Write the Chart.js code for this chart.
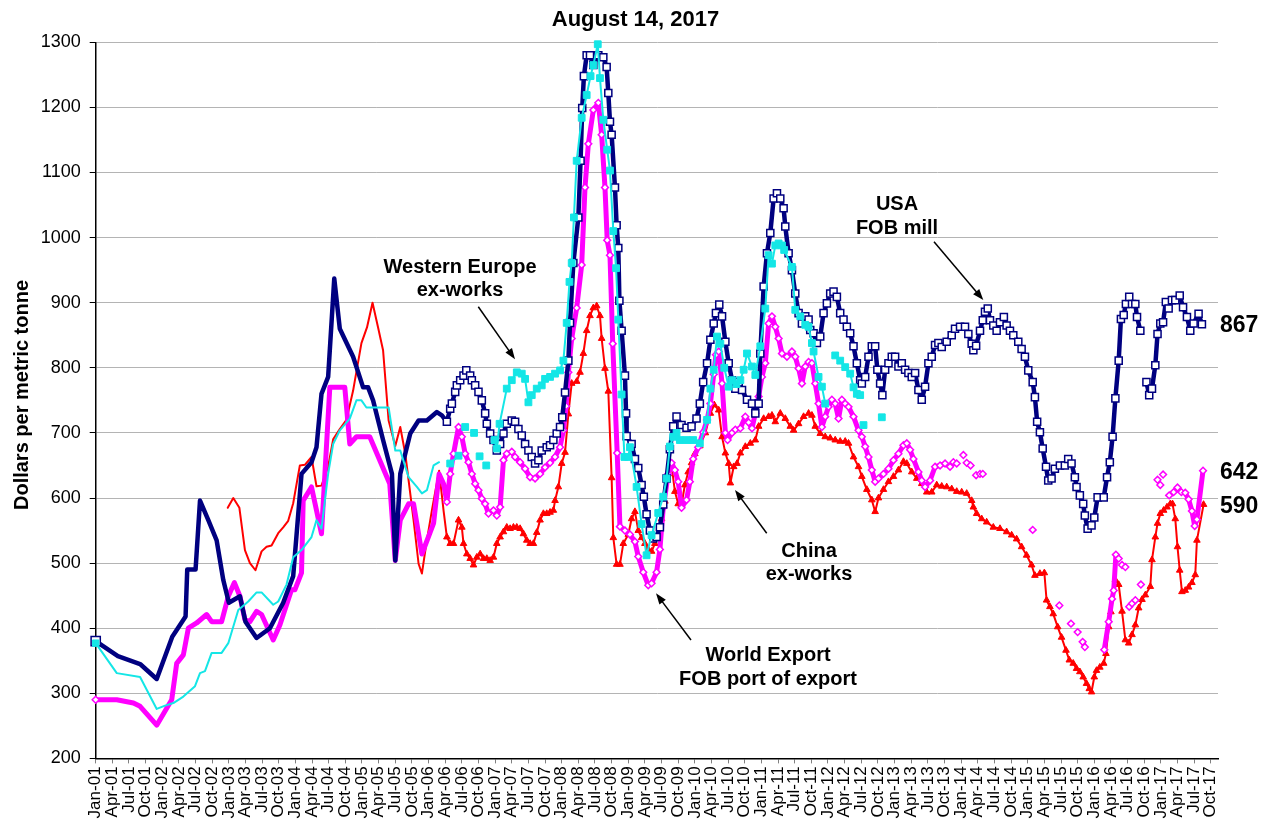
<!DOCTYPE html>
<html><head><meta charset="utf-8">
<script src="https://cdn.jsdelivr.net/npm/chart.js@4.4.1/dist/chart.umd.min.js"></script>
<style>html,body{margin:0;padding:0;background:#fff;}canvas{display:block;}</style>
</head><body>
<canvas id="c" width="1271" height="825"></canvas>
<script>
// x values are months since Jan-2001 (0 = Jan-01)
const tickLabels = ['Jan-01','Apr-01','Jul-01','Oct-01','Jan-02','Apr-02','Jul-02','Oct-02','Jan-03','Apr-03','Jul-03','Oct-03',
'Jan-04','Apr-04','Jul-04','Oct-04','Jan-05','Apr-05','Jul-05','Oct-05','Jan-06','Apr-06','Jul-06','Oct-06',
'Jan-07','Apr-07','Jul-07','Oct-07','Jan-08','Apr-08','Jul-08','Oct-08','Jan-09','Apr-09','Jul-09','Oct-09',
'Jan-10','Apr-10','Jul-10','Oct-10','Jan-11','Apr-11','Jul-11','Oct-11','Jan-12','Apr-12','Jul-12','Oct-12',
'Jan-13','Apr-13','Jul-13','Oct-13','Jan-14','Apr-14','Jul-14','Oct-14','Jan-15','Apr-15','Jul-15','Oct-15',
'Jan-16','Apr-16','Jul-16','Oct-16','Jan-17','Apr-17','Jul-17','Oct-17'];

const usaFobMill = [[0,380],[4,357],[8,345],[11,322],[13.8,387],[16.2,418],[16.5,490],[18,490],[18.8,596],[20.3,566],[21.8,535],[23,474],[24,439],[26,449],[27,410],[29,385],[31.4,400],[33.8,439],[35.6,480],[37.1,637],[38.9,655],[39.8,678],[40.7,760],[41.9,786],[43,937],[44,860],[46.4,817],[48.2,770],[49.1,770],[50,750],[51.8,689],[53.4,637],[54,504],[54.9,637],[56.7,699],[58.2,719],[59.7,719],[61.5,732],[62.4,727],
[63.3,717],[63.9,737],[64.2,745],[64.8,763],[65.1,773],[65.7,781],[66.3,788],[66.8,796],[67.5,788],[67.8,781],[68.4,773],[69,763],[69.6,750],[70.2,730],[70.5,714],[71.1,699],[71.7,689],[72.3,673],[72.9,683],[73.5,699],[74.1,714],[75,719],[75.6,717],[76.2,706],[76.8,696],[77.4,683],[78,673],[78.6,663],[79.2,653],[79.8,658],[80.4,673],[81.3,678],[81.9,681],[82.5,689],[83.1,699],[83.7,709],[84.1,724],[84.6,762],[85.2,811],[85.5,869],[86.1,961],[87,1031],[87.4,1118],[87.7,1199],[88,1248],[88.5,1280],[89.1,1280],[89.7,1265],[90.6,1280],[91.5,1277],[92.1,1262],[92.4,1222],[92.7,1178],[93,1158],[93.6,1077],[93.9,1019],[94.2,984],[94.4,903],[94.8,857],[95.4,788],[95.6,730],[95.7,695],[96.6,683],[97.2,660],[97.8,646],[98.4,620],[98.8,602],[99.3,575],[99.9,550],[100.5,538],[101.1,540],[101.7,555],[102.3,590],[102.9,630],[103.5,675],[104.1,710],[104.7,725],[105.6,712],[106.5,708],[107.4,710],[108.3,722],[108.9,745],[109.5,778],[110.2,807],[110.8,843],[111.4,868],[111.8,884],[112.4,897],
[112.9,879],[113.5,840],[114.1,807],[114.7,781],[115.3,768],[115.9,778],[116.5,766],[117.4,751],[118.3,745],[118.9,730],[119.5,745],[119.8,822],[120.4,925],[121,976],[121.6,1007],[122.2,1060],[122.8,1068],[123.4,1060],[124,1045],[124.3,1017],[124.9,976],[125.5,950],[126.1,914],[126.7,884],[127.3,868],[127.9,879],[128.5,874],[128.8,858],[129.4,853],[130,838],[130.6,848],[131.2,884],[131.8,899],[132.4,914],[133,917],[133.6,909],[134.2,884],[134.8,874],[135.4,863],[136,853],[136.6,833],[137.2,807],[137.8,781],[138.1,776],[138.7,786],[139.3,817],[139.9,833],[140.5,833],[140.9,797],[141.4,776],[141.8,758],[142.3,797],[142.9,807],[143.5,817],[144.1,817],[144.7,802],[145.3,807],[145.9,797],[146.5,792],[147.1,786],[147.7,792],[148.3,766],[148.9,751],[149.5,771],[150.1,807],[150.7,817],[151.3,835],[151.9,838],[152.5,832],[153.4,840],[154.3,850],[154.9,860],[155.8,863],[156.7,863],[157.3,852],[157.9,837],[158.2,827],[158.7,834],[159.4,857],[159.9,873],[160.3,886],[160.8,891],[161.2,873],[161.8,865],[162.4,857],[163,870],[163.7,878],[164.2,865],[164.8,857],[165.4,850],[166.3,840],[166.9,829],[167.5,817],[168.1,796],[168.9,778],[169.3,755],[169.7,717],[170.2,701],[170.7,676],[171.3,648],[171.7,627],[172.3,630],[172.9,645],[173.8,650],[174.7,650],[175.3,660],[175.9,653],[176.5,632],[176.8,617],[177.4,604],[178,591],[178.3,573],[178.8,553],[179.5,558],[180,570],[180.6,601],[181.7,601],[182.3,632],[182.8,655],[183.3,694],[183.8,753],[184.4,811],[184.8,875],[185.3,881],[185.7,898],[186.3,909],[186.8,898],[187.4,898],[187.7,878],[188.3,857],null,
[189.4,778],[189.9,758],[190.4,768],[191,804],[191.4,852],[191.9,868],[192.4,870],[192.9,901],[193.4,891],[194,904],[194.6,904],[195.4,911],[196,893],[196.7,878],[197.3,857],[197.9,868],[198.8,883],[199.4,867]];

const westernEuropeExWorks = [[0,377],[3.8,331],[8,325],[11,276],[12.5,281],[14,285],[15.8,295],[17.9,311],[18.8,331],[19.7,334],[20.9,362],[22.7,362],[23.9,377],[25.7,428],[27.5,441],[29,455],[29.9,455],[32,436],[32.9,441],[34.4,467],[35.6,509],[37.1,520],[38.9,540],[39.8,566],[40.7,553],[41.9,637],[42.8,683],[44,704],[45.8,722],[47,750],[47.9,750],[48.8,739],[52.8,739],[54,673],[54.9,673],[56.4,632],[57.9,617],[58.8,607],[59.7,612],[60.9,650],[61.9,655],null,
[63.9,653],[65.4,665],null,[66.6,709],null,[68.2,700],null,[69.2,664],null,[70.4,650],null,
[71.9,689],[72.3,676],[72.8,714],[74.1,768],[75,781],[75.9,793],[76.8,791],[77.4,783],[78,747],[78.6,758],[79.5,768],[80.4,773],[81,783],[81.9,786],[82.8,791],[83.7,796],[84.3,811],[84.9,869],[85.4,932],[85.8,961],[86.2,1031],[86.7,1118],[87.6,1184],[88.5,1219],[89.2,1248],[89.7,1265],[90.5,1297],[90.9,1245],[91.5,1181],[92.2,1135],[92.7,1103],[93.3,1010],[93.8,953],[94.2,874],[94.8,759],[95.3,663],[96,663],[96.3,678],[97.5,617],[98.4,560],[99.3,512],[100.2,543],[101.4,577],[102.3,602],[102.9,630],[103.5,679],[104.1,694],[104.7,700],[105.3,689],[106.5,689],[107.7,689],[108.9,684],[110.2,720],[110.8,768],[111.4,797],[112,848],[112.6,837],[113.3,800],[114.1,771],[114.7,781],[115.5,775],[116.2,781],[116.8,797],[117.4,822],[118.3,802],[118.9,789],[119.8,833],[120.7,891],[121.3,973],[121.9,960],[122.5,988],[123.1,991],[123.7,988],[124.1,981],[125.5,955],[126.1,889],[127,879],[127.9,866],[128.5,863],[129.1,838],[129.4,825],[130.3,786],[130.9,771],[131.5,745],null,
[133.3,819],[134.2,811],[135.1,801],[136,791],[136.6,770],[137.2,760],[137.8,758],null,[138.4,712],null,[141.7,724]];

const worldExportFob = [[0,290],[3.8,290],[6.8,285],[8,280],[11,251],[13.7,290],[14.6,346],[15.8,359],[16.7,400],[18.2,408],[20,421],[20.9,410],[22.7,410],[23.9,449],[25,470],[26,449],[26.9,413],[27.8,410],[29,426],[29.9,421],[32,382],[33.2,405],[35.3,459],[35.9,459],[37.1,485],[37.4,596],[38.9,617],[40.7,545],[42.2,770],[42.8,770],[44.9,770],[45.8,683],[47,694],[49.4,694],[53,622],[54,504],[54.9,566],[56.4,591],[57.3,591],[58.8,514],[60.9,561],[61.9,637],[62.7,622],
[63.3,594],[63.9,637],[64.5,668],[65.4,709],[66,694],[66.6,668],[67.2,655],[67.8,637],[68.4,622],[69,612],[69.6,599],[70.2,591],[70.8,576],[71.7,581],[72.3,573],[72.9,586],[73.5,658],[74.1,668],[75,671],[75.6,663],[76.5,655],[77.4,645],[78.3,632],[79.2,630],[80.1,637],[81,647],[81.9,654],[82.8,663],[83.7,678],[84.3,704],[84.8,741],[85.2,793],[85.8,845],[86.7,892],[87.6,958],[88.2,1077],[88.8,1144],[89.7,1196],[90.6,1207],[91.2,1158],[91.8,1077],[92.2,996],[92.7,973],[93.2,837],[94,669],[94.5,556],[95.4,550],[96.3,544],[97.2,533],[97.8,510],[98.7,486],[99.6,466],[100.2,469],[101.1,486],[101.7,521],[102.3,585],[103.2,637],[103.8,654],[104.4,643],[105,625],[105.6,585],[106.5,597],[107.1,625],[107.7,660],[108.6,678],[109.5,701],[110.2,720],[110.8,745],[111.4,790],[111.8,820],[112.3,825],[112.9,776],[113.5,700],[113.9,689],[114.7,700],[115.3,705],[116.2,707],[117.1,725],[117.7,716],[118.3,707],[118.9,730],[119.5,756],[120.1,786],[120.7,807],[121.3,868],[121.9,879],[122.5,863],[123.1,845],[123.7,822],[124.6,817],[125.5,825],[126.1,817],[126.7,799],[127.3,776],[127.9,802],[128.5,809],[129.1,807],[129.7,776],[130.3,745],[130.9,709],[131.5,725],[132.1,740],[132.7,751],[133.3,745],[133.9,722],[134.5,751],[135.1,745],[135.7,740],[136.6,725],[137.5,704],[138.1,694],[138.7,679],[139.3,663],[139.9,643],[140.5,625],[141.1,630],[142,637],[142.9,645],[143.8,658],[144.7,668],[145.6,681],[146.2,684],[146.8,674],[147.4,660],[148.3,640],[148.9,627],[149.5,617],[150.4,627],[151.3,648],[152.2,650],[153.1,653],[154,648],[154.6,655],[155.2,653],null,
[156.4,666],null,[157,654],[157.7,650],null,[158.7,635],[159.4,637],[159.9,637],null,[168.9,551],null,[173.7,435],null,[175.8,407],null,[177,394],null,[177.9,379],[178.3,371],null,
[181.8,367],[182.6,410],[183.2,445],[183.5,458],[183.9,513],null,[184.4,507],null,[185,497],[185.6,494],null,[186.3,433],[186.8,438],[187.4,443],null,[188.4,467],null,
[191.4,628],null,[191.9,620],null,[192.4,636],null,[193.5,604],[194.3,609],[195,616],[195.7,609],[196.4,608],[197,598],[197.6,580],[198.1,557],[198.5,567],[199.6,642]];

const chinaExWorks = [[23.8,585],[24.8,600],[25.9,585],[26.9,520],[27.8,500],[28.8,489],[29.9,518],[30.8,525],[31.7,527],[32.9,546],[33.8,555],[34.7,565],[35.6,592],[36.8,650],[37.7,651],[38.9,663],[39.8,618],[40.7,619],[41.9,648],[42.8,690],[44,706],[45.2,720],[46.4,765],[47.9,838],[48.9,862],[49.9,900],[50.9,862],[51.8,827],[52.8,719],[54,680],[54.9,709],[55.8,668],[57.3,566],[58.2,499],[58.8,484],[59.6,530],[60.6,581],[61.9,642],[62.7,581],
[63.3,540],[63.9,530],[64.5,530],[65.4,566],[66,555],[66.3,530],[66.9,514],[67.5,507],[68.1,497],[68.7,509],[69.3,514],[69.9,507],[70.5,507],[71.1,504],[71.7,509],[72.3,530],[72.9,540],[73.5,548],[74.1,555],[74.7,553],[75.3,555],[75.9,555],[76.5,553],[77.1,545],[77.7,535],[78.3,530],[78.9,530],[79.5,547],[80.1,566],[80.7,576],[81.3,576],[81.9,578],[82.5,581],[82.8,596],[83.4,617],[84,653],[84.6,670],[85.2,729],[85.8,776],[86.7,779],[87.3,793],[87.9,822],[88.5,857],[89.1,880],[89.7,892],[90.3,895],[90.9,880],[91.2,845],[91.8,799],[92.4,764],[93,631],[93.3,539],[93.9,498],[94.5,498],[95.1,530],[96,544],[96.6,568],[97.2,579],[97.8,550],[98.4,539],[99,530],[99.6,521],[100.2,518],[100.8,530],[101.4,544],[102,568],[102.6,595],[103.2,637],[103.8,650],[104.4,610],[105,591],[105.6,590],[106.2,620],[106.8,640],[107.4,654],[108,668],[108.9,680],[109.9,700],[110.8,730],[111.5,743],[112.3,735],[112.9,694],[113.5,669],[114.1,653],[114.4,623],[115,648],[115.6,653],[116.2,669],[117.1,679],[118,684],[118.9,689],[119.5,710],[120.4,722],[121.3,725],[121.9,727],[122.5,717],[123.4,730],[124.3,722],[125.2,710],[125.8,704],[126.7,714],[127.6,725],[128.5,730],[129.1,727],[129.7,710],[130.6,699],[131.5,694],[132.4,692],[133.3,689],[134.2,687],[135.1,687],[135.7,684],[136.6,663],[137.5,648],[138.1,633],[139,613],[139.9,597],[140.5,579],[141.1,600],[142,613],[142.9,625],[143.8,633],[144.7,643],[145.6,656],[146.2,653],[147.1,640],[148,630],[148.9,622],[149.8,609],[150.7,609],[151.6,620],[152.5,618],[153.4,617],[154.3,614],[155.2,610],[156.1,609],[157,607],[157.9,596],[158.2,586],[158.8,576],[159.7,568],[160.6,563],[161.8,555],[163,553],[164.2,548],[165.1,543],[166,537],[166.9,525],[167.8,512],[168.7,497],[169.3,481],[170.2,484],[171,485],[171.4,443],[172,433],[172.6,422],[173.4,402],[174.1,386],[174.9,366],[175.5,351],[176.2,346],[176.8,338],[177.4,333],[178,325],[178.6,315],[179.1,307],[179.5,302],[180,325],[180.4,335],[181,340],[181.7,346],[182.1,361],[182.6,402],[183,425],[183.8,474],[184.4,467],[185,426],[185.6,382],[186.2,377],[186.8,390],[187.4,405],[188,431],[188.6,444],[189.2,451],[190.1,464],[190.4,505],[191,540],[191.4,561],[191.9,576],[192.5,581],[193.1,586],[193.7,591],[194.1,591],[194.6,568],[195,525],[195.4,489],[195.8,456],[196.4,458],[197,463],[197.6,470],[198.2,482],[198.5,535],[199.7,590]];

const endLabels = [['867',332],['642',479],['590',513]];

function toXY(arr){
  const out=[]; let last=0;
  for(const p of arr){
    if(p===null){ out.push({x:last+0.01,y:null}); }
    else { out.push({x:p[0],y:p[1]}); last=p[0]; }
  }
  return out;
}
const MARK_START = 63;
function rad(big, start){ return ctx => { const r = ctx.raw; if(!r) return 0; if(ctx.dataIndex===0) return start; return r.x >= MARK_START ? big : 0; }; }

const NAVY='#000080', CYAN='#14E6E6', MAG='#FF00FF', RED='#FF0000';
Chart.defaults.font.family = '"Liberation Sans", Arial, sans-serif';
Chart.defaults.color = '#000';

function arrow(ctx,x1,y1,x2,y2){
  const a=Math.atan2(y2-y1,x2-x1), L=11, W=4;
  ctx.beginPath(); ctx.moveTo(x1,y1); ctx.lineTo(x2-L*0.6*Math.cos(a), y2-L*0.6*Math.sin(a)); ctx.stroke();
  ctx.beginPath(); ctx.moveTo(x2,y2);
  ctx.lineTo(x2-L*Math.cos(a)+W*Math.sin(a), y2-L*Math.sin(a)-W*Math.cos(a));
  ctx.lineTo(x2-L*Math.cos(a)-W*Math.sin(a), y2-L*Math.sin(a)+W*Math.cos(a));
  ctx.closePath(); ctx.fill();
}

const deco = {
  id:'deco',
  beforeDraw(chart){ const c=chart.ctx; c.save(); c.fillStyle='#fff'; c.fillRect(0,0,chart.width,chart.height); c.restore(); },
  afterDraw(chart){
    const c=chart.ctx; c.save();
    c.fillStyle='#000'; c.strokeStyle='#000'; c.lineWidth=1.5;
    c.textAlign='center'; c.textBaseline='alphabetic';
    c.font='bold 22px "Liberation Sans", Arial, sans-serif';
    c.fillText('August 14, 2017', 635.5, 26);
    c.save(); c.translate(28,395); c.rotate(-Math.PI/2);
    c.font='bold 20px "Liberation Sans", Arial, sans-serif';
    c.fillText('Dollars per metric tonne',0,0); c.restore();
    c.font='bold 20px "Liberation Sans", Arial, sans-serif';
    c.fillText('Western Europe',460,272.7); c.fillText('ex-works',460,295.5);
    c.fillText('USA',897,210); c.fillText('FOB mill',897,233.5);
    c.fillText('China',809,556.7); c.fillText('ex-works',809,580);
    c.fillText('World Export',768,660.7); c.fillText('FOB port of export',768,684.5);
    c.textAlign='left'; c.font='bold 23px "Liberation Sans", Arial, sans-serif';
    for(const [t,y] of endLabels) c.fillText(t,1220,y);
    arrow(c,478.3,306.7,515,359.3);
    arrow(c,934,241.7,983.3,300);
    arrow(c,766.7,533.3,735,490);
    arrow(c,691,640,656,593.3);
    c.restore();
  }
};

new Chart(document.getElementById('c'), {
  type:'line',
  data:{ datasets:[
    { label:'Western Europe ex-works', data:toXY(westernEuropeExWorks), borderColor:CYAN, backgroundColor:CYAN, borderWidth:2,
      pointStyle:'rect', pointRadius:rad(4.8,4.5), pointBackgroundColor:CYAN, pointBorderColor:CYAN, pointBorderWidth:1, clip:false },
    { label:'USA FOB mill', data:toXY(usaFobMill), borderColor:NAVY, backgroundColor:'#fff', borderWidth:4.5,
      pointStyle:'rect', pointRadius:rad(5,6.5), pointBackgroundColor:'#fff', pointBorderColor:NAVY, pointBorderWidth:1.5, clip:false },
    { label:'World Export FOB port of export', data:toXY(worldExportFob), borderColor:MAG, backgroundColor:'#fff', borderWidth:5,
      pointStyle:'rectRot', pointRadius:rad(3.4,3.5), pointBackgroundColor:'#fff', pointBorderColor:MAG, pointBorderWidth:1.5, clip:false },
    { label:'China ex-works', data:toXY(chinaExWorks), borderColor:RED, backgroundColor:RED, borderWidth:2,
      pointStyle:'triangle', pointRadius:ctx => (ctx.raw && ctx.raw.x >= MARK_START) ? 3.8 : 0, pointBackgroundColor:RED, pointBorderColor:RED, pointBorderWidth:1, clip:false }
  ]},
  options:{
    responsive:false, animation:false, devicePixelRatio:1,
    layout:{ padding:{ top:42.3, right:53, left:0, bottom:0 } },
    plugins:{ legend:{display:false}, title:{display:false}, tooltip:{enabled:false} },
    elements:{ line:{ tension:0, borderJoinStyle:'round', borderCapStyle:'round' }, point:{ hoverRadius:0 } },
    scales:{
      x:{ type:'linear', min:0, max:202.3,
        afterBuildTicks: s => { s.ticks = tickLabels.map((_,i)=>({value:i*3})); },
        ticks:{ autoSkip:false, minRotation:90, maxRotation:90, font:{size:17}, color:'#000', padding:3,
          callback:(v,i)=> tickLabels[i] },
        grid:{ drawOnChartArea:false, drawTicks:true, tickLength:5, tickColor:'#808080' },
        border:{ color:'#000', width:1.5 },
        afterFit: s => { s.height = 66.6; } },
      y:{ min:200, max:1300,
        ticks:{ stepSize:100, font:{size:18}, color:'#000', padding:9, callback: v => String(v) },
        grid:{ color:'#b4b4b4', lineWidth:1, tickLength:6, tickColor:'#000' },
        border:{ color:'#000', width:1.5 },
        afterFit: s => { s.width = 95.7; } }
    }
  },
  plugins:[deco]
});
</script>
</body></html>
